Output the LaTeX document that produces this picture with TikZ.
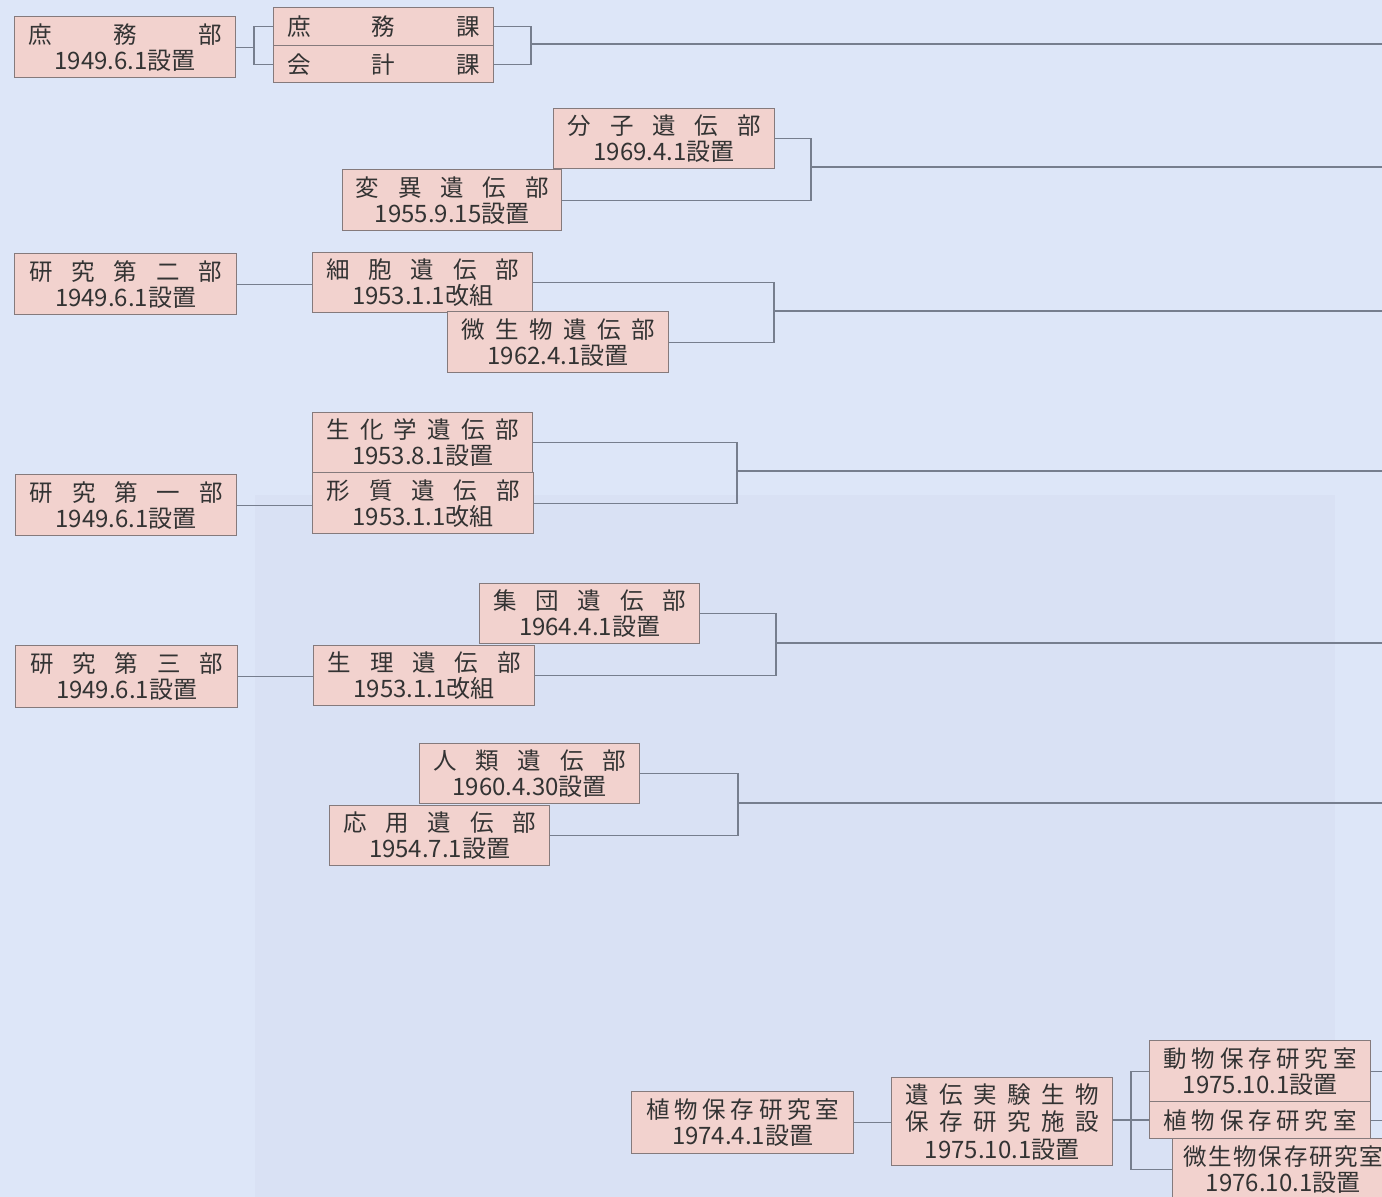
\documentclass[tikz,border=0pt]{standalone}
\usepackage{fontspec}
\setmainfont{Noto Sans CJK JP}
\usetikzlibrary{calc}
\definecolor{bg}{HTML}{DDE6F8}
\definecolor{bgdark}{HTML}{D9E1F4}
\definecolor{boxfill}{HTML}{F2D2CE}
\definecolor{boxline}{HTML}{857A7C}
\definecolor{conn}{HTML}{767E8E}
\definecolor{txt}{HTML}{333333}
\newcommand\jn[1]{\makebox[193pt][s]{#1}}
\newcommand\jd[1]{{\fontsize{24}{26}\selectfont #1}}
\begin{document}
\begin{tikzpicture}[x=1pt,y=-1pt,
  org/.style={draw=boxline, fill=boxfill, line width=1.3pt, rectangle, inner sep=0pt,
    align=center, text=txt, font=\fontsize{23.5}{26}\selectfont, anchor=north west},
  link/.style={draw=conn, line width=1.2pt}]
\useasboundingbox (0,0) rectangle (1382,1197);
\clip (0,0) rectangle (1382,1197);
\fill[bg] (0,0) rectangle (1382,1197);
\fill[bgdark] (255,495) rectangle (1335,1197);

% row 1
\node[org, minimum width=221pt, minimum height=61pt] (shomubu) at (14,16) {\jn{庶\hfill 務\hfill 部}\\ \jd{1949.6.1設置}};
\node[org, minimum width=220pt, minimum height=38pt] (shomuka) at (273,7) {\jn{庶\hfill 務\hfill 課}};
\node[org, minimum width=220pt, minimum height=37pt] (kaikeika) at (273,45) {\jn{会\hfill 計\hfill 課}};
% row 2
\node[org, minimum width=221pt, minimum height=60pt] (bunshi) at (553,108) {\jn{分\hfill 子\hfill 遺\hfill 伝\hfill 部}\\ \jd{1969.4.1設置}};
\node[org, minimum width=219pt, minimum height=61pt] (heni) at (342,169) {\jn{変\hfill 異\hfill 遺\hfill 伝\hfill 部}\\ \jd{1955.9.15設置}};
% row 3
\node[org, minimum width=222pt, minimum height=61pt] (kenkyu2) at (14,253) {\jn{研\hfill 究\hfill 第\hfill 二\hfill 部}\\ \jd{1949.6.1設置}};
\node[org, minimum width=220pt, minimum height=60pt] (saibo) at (312,252) {\jn{細\hfill 胞\hfill 遺\hfill 伝\hfill 部}\\ \jd{1953.1.1改組}};
\node[org, minimum width=221pt, minimum height=61pt] (biseibutsu) at (447,311) {\jn{微\hfill 生\hfill 物\hfill 遺\hfill 伝\hfill 部}\\ \jd{1962.4.1設置}};
% row 4
\node[org, minimum width=220pt, minimum height=60pt] (seikagaku) at (312,412) {\jn{生\hfill 化\hfill 学\hfill 遺\hfill 伝\hfill 部}\\ \jd{1953.8.1設置}};
\node[org, minimum width=221pt, minimum height=61pt] (keishitsu) at (312,472) {\jn{形\hfill 質\hfill 遺\hfill 伝\hfill 部}\\ \jd{1953.1.1改組}};
\node[org, minimum width=221pt, minimum height=61pt] (kenkyu1) at (15,474) {\jn{研\hfill 究\hfill 第\hfill 一\hfill 部}\\ \jd{1949.6.1設置}};
% row 5
\node[org, minimum width=220pt, minimum height=60pt] (shudan) at (479,583) {\jn{集\hfill 団\hfill 遺\hfill 伝\hfill 部}\\ \jd{1964.4.1設置}};
\node[org, minimum width=221pt, minimum height=60pt] (seiri) at (313,645) {\jn{生\hfill 理\hfill 遺\hfill 伝\hfill 部}\\ \jd{1953.1.1改組}};
\node[org, minimum width=222pt, minimum height=62pt] (kenkyu3) at (15,645) {\jn{研\hfill 究\hfill 第\hfill 三\hfill 部}\\ \jd{1949.6.1設置}};
% row 6
\node[org, minimum width=220pt, minimum height=60pt] (jinrui) at (419,743) {\jn{人\hfill 類\hfill 遺\hfill 伝\hfill 部}\\ \jd{1960.4.30設置}};
\node[org, minimum width=220pt, minimum height=60pt] (oyo) at (329,805) {\jn{応\hfill 用\hfill 遺\hfill 伝\hfill 部}\\ \jd{1954.7.1設置}};
% row 7
\node[org, minimum width=222pt, minimum height=62pt] (shokubutsuA) at (631,1091) {\jn{植\hfill 物\hfill 保\hfill 存\hfill 研\hfill 究\hfill 室}\\ \jd{1974.4.1設置}};
\node[org, minimum width=221pt, minimum height=88pt, font=\fontsize{23.5}{27.5}\selectfont] (shisetsu) at (891,1077) {\jn{遺\hfill 伝\hfill 実\hfill 験\hfill 生\hfill 物}\\ \jn{保\hfill 存\hfill 研\hfill 究\hfill 施\hfill 設}\\ \jd{1975.10.1設置}};
\node[org, minimum width=221pt, minimum height=61pt] (dobutsu) at (1149,1040) {\jn{動\hfill 物\hfill 保\hfill 存\hfill 研\hfill 究\hfill 室}\\ \jd{1975.10.1設置}};
\node[org, minimum width=221pt, minimum height=37pt] (shokubutsuB) at (1149,1101) {\jn{植\hfill 物\hfill 保\hfill 存\hfill 研\hfill 究\hfill 室}};
\node[org, minimum width=221pt, minimum height=62pt] (biseibutsuB) at (1172,1138) {\makebox[200pt][s]{微\hfill 生\hfill 物\hfill 保\hfill 存\hfill 研\hfill 究\hfill 室}\\ \jd{1976.10.1設置}};

% bracket points and right edge
\coordinate (edge) at (1392,0);
\coordinate (b0) at (254,46.5);
\coordinate (b1) at (531,44);
\coordinate (b2) at (811,167);
\coordinate (b3) at (774,311);
\coordinate (b4) at (737,471);
\coordinate (b5) at (776,643);
\coordinate (b6) at (738,803);
\coordinate (b7) at (1131,1120);

% connectors
\draw[link] (shomubu.east) -- (shomubu.east -| b0);
\draw[link] (shomuka.west) -| (b0) |- (kaikeika.west);
\draw[link] (shomuka.east) -| (b1) |- (kaikeika.east);
\draw[link] (b1) -- (b1 -| edge);

\draw[link] (bunshi.east) -| (b2) |- (heni.east);
\draw[link] (b2) -- (b2 -| edge);

\draw[link] (kenkyu2.east) -- (kenkyu2.east -| saibo.west);
\draw[link] (saibo.east) -| (b3) |- (biseibutsu.east);
\draw[link] (b3) -- (b3 -| edge);

\draw[link] (kenkyu1.east) -- (kenkyu1.east -| keishitsu.west);
\draw[link] (seikagaku.east) -| (b4) |- (keishitsu.east);
\draw[link] (b4) -- (b4 -| edge);

\draw[link] (kenkyu3.east) -- (kenkyu3.east -| seiri.west);
\draw[link] (shudan.east) -| (b5) |- (seiri.east);
\draw[link] (b5) -- (b5 -| edge);

\draw[link] (jinrui.east) -| (b6) |- (oyo.east);
\draw[link] (b6) -- (b6 -| edge);

\draw[link] (shokubutsuA.east) -- (shokubutsuA.east -| shisetsu.west);
\draw[link] (shisetsu.east |- b7) -- (b7);
\draw[link] (dobutsu.west) -| (b7) |- (biseibutsuB.west);
\draw[link] (b7) -- (b7 -| shokubutsuB.west);
\draw[link] (dobutsu.east) -- (dobutsu.east -| edge);
\draw[link] (shokubutsuB.east) -- (shokubutsuB.east -| edge);
\end{tikzpicture}
\end{document}
